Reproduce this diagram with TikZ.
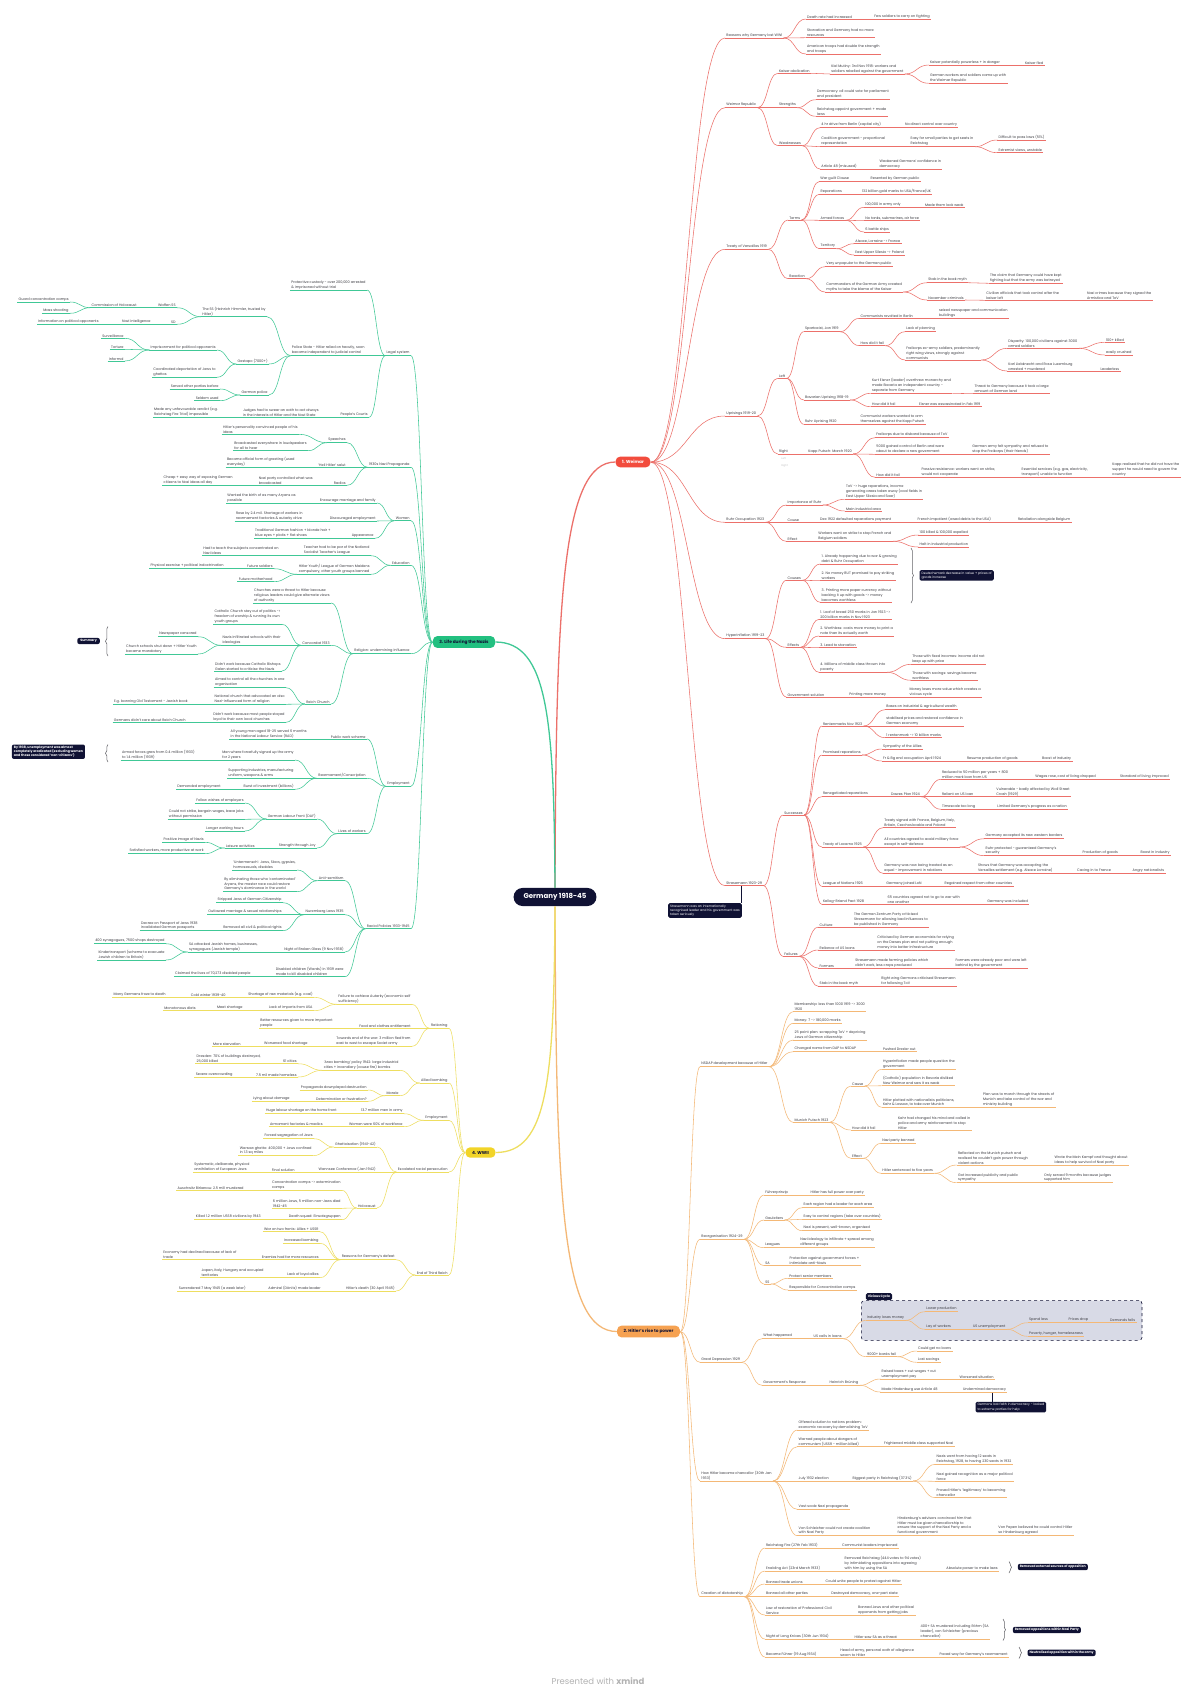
\documentclass[tikz,border=0pt]{standalone}
\usepackage{fontspec}
\setmainfont{Poppins}
\usetikzlibrary{positioning,calc,decorations.pathreplacing}

\definecolor{ink}{RGB}{60,60,66}
\definecolor{navy}{RGB}{16,18,52}
\definecolor{wmfill}{RGB}{242,76,61}
\definecolor{wmline}{RGB}{236,112,106}
\definecolor{hrfill}{RGB}{246,162,82}
\definecolor{hrline}{RGB}{244,184,118}
\definecolor{nzfill}{RGB}{34,192,128}
\definecolor{nzline}{RGB}{64,200,150}
\definecolor{wwfill}{RGB}{242,212,40}
\definecolor{wwline}{RGB}{238,222,96}
\definecolor{cyclefill}{RGB}{216,218,230}

\tikzset{
  topic/.style={font=\fontsize{3.5}{4.9}\selectfont, text=ink, align=left, inner xsep=1.2pt, inner ysep=0.7pt},
  wm/.style={topic}, wmln/.style={draw=wmline, line width=0.55pt},
  hr/.style={topic}, hrln/.style={draw=hrline, line width=0.55pt},
  nz/.style={topic}, nzln/.style={draw=nzline, line width=0.55pt},
  ww/.style={topic}, wwln/.style={draw=wwline, line width=0.55pt},
  pill/.style={rounded corners=4.5pt, inner xsep=6.5pt, inner ysep=3.6pt, font=\fontsize{4.3}{5}\selectfont\bfseries},
  note/.style={fill=navy, text=white, rounded corners=1.5pt, inner xsep=2pt, inner ysep=1.5pt, align=left, font=\fontsize{3.2}{4.2}\selectfont},
  brace/.style={decorate, decoration={brace, amplitude=2.5pt}, draw=ink!80, line width=0.5pt},
  stub/.style={inner sep=0pt, minimum size=0pt},
}

% right-hand topic: style, name, parent, position, text
\newcommand{\rtopic}[5]{%
  \node[#1, anchor=south west] (#2) at (#4) {#5};
  \draw[#1ln] (#2.south west) -- (#2.south east);
  \draw[#1ln] let \p1=(#3.south east), \p2=(#2.south west), \n1={(\x2-\x1)/2} in
    (\p1) .. controls +(\n1,0) and +(-\n1,0) .. (\p2);}
% left-hand topic: style, name, parent, position, text
\newcommand{\ltopic}[5]{%
  \node[#1, anchor=south east] (#2) at (#4) {#5};
  \draw[#1ln] (#2.south west) -- (#2.south east);
  \draw[#1ln] let \p1=(#3.south west), \p2=(#2.south east), \n1={(\x1-\x2)/2} in
    (\p1) .. controls +(-\n1,0) and +(\n1,0) .. (\p2);}

\begin{document}
\begin{tikzpicture}[x=1pt,y=-1pt]
        \fill[white] (0,0) rectangle (1200,1700);
        \useasboundingbox (0,0) rectangle (1200,1700);

        % Centre and main branches
        \node[pill, fill=navy, text=white, rounded corners=9pt, inner xsep=10pt, inner ysep=5.5pt, font=\fontsize{7}{8}\selectfont\bfseries] (central) at (555,897) {Germany 1918-45};
        \node[pill, fill=wmfill, text=white] (wpill) at (633,462) {1. Weimar};
        \node[pill, fill=hrfill, text=navy] (hpill) at (648.5,1331.5) {2. Hitler's rise to power};
        \node[pill, fill=nzfill, text=navy] (npill) at (464,642) {3. Life during the Nazis};
        \node[pill, fill=wwfill, text=navy] (xpill) at (480.5,1152.5) {4. WWII};
        \draw[wmln, line width=1.3pt] (central.north) .. controls (556,600) and (562,462) .. (wpill.west);
        \draw[hrln, line width=1.3pt] (central.south) .. controls (556,1200) and (562,1331.5) .. (hpill.west);
        \draw[nzln, line width=1.3pt] (central.north) .. controls (554,720) and (548,642) .. (npill.east);
        \draw[wwln, line width=1.3pt] (central.south) .. controls (554,1080) and (548,1152.5) .. (xpill.east);
        \node[stub] (wR) at (wpill.east) {};
        \node[stub] (hR) at (hpill.east) {};
        \node[stub] (nL) at (npill.west) {};
        \node[stub] (xL) at (xpill.west) {};

        % 1. Weimar
        \rtopic{wm}{w1}{wR}{725,38}{Reasons why Germany lost WWI}
        \rtopic{wm}{w1a}{w1}{805.7,19}{Death rate had increased}
        \rtopic{wm}{w1a1}{w1a}{873,19}{Few soldiers to carry on fighting}
        \rtopic{wm}{w1b}{w1}{805.7,37.7}{Starvation and Germany had no more\\resources}
        \rtopic{wm}{w1c}{w1}{805.7,54}{American troops had double the strength\\and troops}
        \rtopic{wm}{w2}{wR}{725,107.7}{Weimar Republic}
        \rtopic{wm}{w2a}{w2}{777.7,73.3}{Kaiser abdication}
        \rtopic{wm}{w2a1}{w2a}{830,74}{Kiel Mutiny: 3rd Nov 1918: workers and\\soldiers rebelled against the government}
        \rtopic{wm}{w2a1a}{w2a1}{928.7,65}{Kaiser potentially powerless + in danger}
        \rtopic{wm}{w2a1a1}{w2a1a}{1023.7,65}{Kaiser fled}
        \rtopic{wm}{w2a1b}{w2a1}{928.7,83.3}{German workers and soldiers came up with\\the Weimar Republic}
        \rtopic{wm}{w2b}{w2}{777.7,107.7}{Strengths}
        \rtopic{wm}{w2b1}{w2b}{815.7,99.7}{Democracy: all could vote for parliament\\and president}
        \rtopic{wm}{w2b2}{w2b}{815.7,116.3}{Reichstag appoint government + made\\laws}
        \rtopic{wm}{w2c}{w2}{777.7,145.7}{Weaknesses}
        \rtopic{wm}{w2c1}{w2c}{820,127.7}{4 hr drive from Berlin (capital city)}
        \rtopic{wm}{w2c1a}{w2c1}{903.7,127.7}{No direct control over country}
        \rtopic{wm}{w2c2}{w2c}{820,146.7}{Coalition government - proportional\\representation}
        \rtopic{wm}{w2c2a}{w2c2}{909.3,146.7}{Easy for small parties to get seats in\\Reichstag}
        \rtopic{wm}{w2c2a1}{w2c2a}{997.3,140}{Difficult to pass laws (51\%)}
        \rtopic{wm}{w2c2a2}{w2c2a}{997.3,152.7}{Extremist views, unstable}
        \rtopic{wm}{w2c3}{w2c}{820,169}{Article 48 (misused)}
        \rtopic{wm}{w2c3a}{w2c3}{878.3,169}{Weakened Germans' confidence in\\democracy}
        \rtopic{wm}{w3}{wR}{725,249.3}{Treaty of Versailles 1919}
        \rtopic{wm}{w3a}{w3}{788,220}{Terms}
        \rtopic{wm}{w3a1}{w3a}{819,181.7}{War guilt Clause}
        \rtopic{wm}{w3a1a}{w3a1}{869.3,181.7}{Resented by German public}
        \rtopic{wm}{w3a2}{w3a}{819.3,194.3}{Reparations}
        \rtopic{wm}{w3a2a}{w3a2}{860.7,194.3}{132 billion gold marks to USA/France/UK}
        \rtopic{wm}{w3a3}{w3a}{819.3,220.3}{Armed forces}
        \rtopic{wm}{w3a3a}{w3a3}{864,207.3}{100,000 in army only}
        \rtopic{wm}{w3a3a1}{w3a3a}{923.7,207.3}{Made them look weak}
        \rtopic{wm}{w3a3b}{w3a3}{864,220.7}{No tanks, submarines, air force}
        \rtopic{wm}{w3a3c}{w3a3}{864,232}{6 battle ships}
        \rtopic{wm}{w3a4}{w3a}{819.3,248.7}{Territory}
        \rtopic{wm}{w3a4a}{w3a4}{854,243.7}{Alsace, Lorraine -> France}
        \rtopic{wm}{w3a4b}{w3a4}{854,255}{East Upper Silesia -> Poland}
        \rtopic{wm}{w3b}{w3}{788,278.7}{Reaction}
        \rtopic{wm}{w3b1}{w3b}{825,266.7}{Very unpopular to the German public}
        \rtopic{wm}{w3b2}{w3b}{825,292}{Commanders of the German Army created\\myths to take the blame of the Kaiser}
        \rtopic{wm}{w3b2a}{w3b2}{927,282.7}{Stab in the back myth}
        \rtopic{wm}{w3b2a1}{w3b2a}{988.7,283.3}{The claim that Germany could have kept\\fighting but that the army was betrayed}
        \rtopic{wm}{w3b2b}{w3b2}{927,300}{November criminals}
        \rtopic{wm}{w3b2b1}{w3b2b}{985,300.3}{Civilian officials that took control after the\\kaiser left}
        \rtopic{wm}{w3b2b1a}{w3b2b1}{1085.7,300.3}{Nazi crimes because they signed the\\Armistice and ToV}
        \rtopic{wm}{w4}{wR}{725,416}{Uprisings 1919-20}
        \rtopic{wm}{w4a}{w4}{777.7,378.3}{Left}
        \rtopic{wm}{w4a1}{w4a}{803.7,331.7}{Spartacist, Jan 1919}
        \rtopic{wm}{w4a1a}{w4a1}{859.3,318.3}{Communists revolted in Berlin}
        \rtopic{wm}{w4a1a1}{w4a1a}{937.7,318.3}{seized newspaper and communication\\buildings}
        \rtopic{wm}{w4a1b}{w4a1}{859.3,345.7}{How did it fail}
        \rtopic{wm}{w4a1b1}{w4a1b}{905,331.7}{Lack of planning}
        \rtopic{wm}{w4a1b2}{w4a1b}{905,360}{Freikorps ex-army soldiers, predominantly\\right wing views, strongly against\\communists}
        \rtopic{wm}{w4a1b2a}{w4a1b2}{1007,348.3}{Disparity: 100,000 civilians against 3000\\armed soldiers}
        \rtopic{wm}{w4a1b2a1}{w4a1b2a}{1104.7,342.3}{100+ killed}
        \rtopic{wm}{w4a1b2a2}{w4a1b2a}{1104.7,355}{easily crushed}
        \rtopic{wm}{w4a1b2b}{w4a1b2}{1007,371}{Karl Liebknecht and Rosa Luxemburg\\arrested + murdered}
        \rtopic{wm}{w4a1b2b1}{w4a1b2b}{1099.3,371}{Leaderless}
        \rtopic{wm}{w4a2}{w4a}{803.7,400}{Bavarian Uprising 1918-19}
        \rtopic{wm}{w4a2a}{w4a2}{870.7,393.3}{Kurt Eisner (leader) overthrew monarchy and\\made Bavaria an independent country -\\separate from Germany}
        \rtopic{wm}{w4a2a1}{w4a2a}{973.3,393.7}{Threat to Germany because it took a large\\amount of German land}
        \rtopic{wm}{w4a2b}{w4a2}{870.7,406.7}{How did it fail}
        \rtopic{wm}{w4a2b1}{w4a2b}{917.7,406.7}{Eisner was assassinated in Feb 1919}
        \rtopic{wm}{w4a3}{w4a}{803.7,424.3}{Ruhr Uprising 1920}
        \rtopic{wm}{w4a3a}{w4a3}{859.3,424.3}{Communist workers wanted to arm\\themselves against the Kapp Putsch}
        \rtopic{wm}{w4b}{w4}{777.7,454}{Right}
        \node[topic, text=ink!30, font=\fontsize{2.6}{3}\selectfont, anchor=west] (faintL) at (780,458.3) {Left};
        \node[topic, text=ink!30, font=\fontsize{2.6}{3}\selectfont, anchor=west] (faintR) at (780,466) {Right};
        \rtopic{wm}{w4b1}{w4b}{807,454}{Kapp Putsch: March 1920}
        \rtopic{wm}{w4b1a}{w4b1}{875,437.7}{Freikorps due to disband because of ToV}
        \rtopic{wm}{w4b1b}{w4b1}{875,454.3}{5000 gained control of Berlin and were\\about to declare a new government}
        \rtopic{wm}{w4b1b1}{w4b1b}{971,454.3}{German army felt sympathy and refused to\\stop the Freikorps (their friends)}
        \rtopic{wm}{w4b1c}{w4b1}{875,477.3}{How did it fail}
        \rtopic{wm}{w4b1c1}{w4b1c}{920.3,477.3}{Passive resistance: workers went on strike,\\would not cooperate}
        \rtopic{wm}{w4b1c1a}{w4b1c1}{1020.3,477.3}{Essential services (e.g. gas, electricity,\\transport) unable to function}
        \rtopic{wm}{w4b1c1a1}{w4b1c1a}{1111,477.3}{Kapp realised that he did not have the\\support he would need to govern the\\country}
        \rtopic{wm}{w5}{wR}{725,522.3}{Ruhr Occupation 1923}
        \rtopic{wm}{w5a}{w5}{786.3,505}{Importance of Ruhr}
        \rtopic{wm}{w5a1}{w5a}{844.7,499.3}{ToV -> huge reparations, income\\generating areas taken away (coal fields in\\East Upper Silesia and Saar)}
        \rtopic{wm}{w5a2}{w5a}{844.7,511}{Main industrial area}
        \rtopic{wm}{w5b}{w5}{786.3,522.3}{Cause}
        \rtopic{wm}{w5b1}{w5b}{818.7,522.3}{Dec 1922 defaulted reparations payment}
        \rtopic{wm}{w5b1a}{w5b1}{916.3,522.3}{French impatient (owed debts to the USA)}
        \rtopic{wm}{w5b1a1}{w5b1a}{1016.7,522.3}{Retaliation alongside Belgium}
        \rtopic{wm}{w5c}{w5}{786.3,541.3}{Effect}
        \rtopic{wm}{w5c1}{w5c}{817,541.3}{Workers went on strike to stop French and\\Belgium soldiers}
        \rtopic{wm}{w5c1a}{w5c1}{918.3,535}{100 killed \& 100,000 expelled}
        \rtopic{wm}{w5c1b}{w5c1}{918.3,547}{Halt in industrial production}
        \rtopic{wm}{w6}{wR}{725,638.7}{Hyperinflation 1919-23}
        \rtopic{wm}{w6a}{w6}{786.3,580.3}{Causes}
        \rtopic{wm}{w6a1}{w6a}{820.3,564}{1. Already happening due to war \& growing\\debt \& Ruhr Occupation}
        \rtopic{wm}{w6a2}{w6a}{820.3,580.7}{2. No money BUT promised to pay striking\\workers}
        \rtopic{wm}{w6a3}{w6a}{820.3,602.3}{3. Printing more paper currency without\\backing it up with goods -> money\\becomes worthless}
        \node[note, anchor=north west] (hypnote) at (919.3,570) {Deutschemark decrease in value + prices of\\goods increase};
        \coordinate (hypA) at (911,548);
        \coordinate (hypB) at (911,603);
        \draw[brace] (hypA) -- (hypB);
        \rtopic{wm}{w6b}{w6}{786.3,647.3}{Effects}
        \rtopic{wm}{w6b1}{w6b}{819,619.3}{1. Loaf of bread 250 marks in Jan 1923 ->\\200 billion marks in Nov 1923}
        \rtopic{wm}{w6b2}{w6b}{819,636}{2. Worthless: costs more money to print a\\note than its actually worth}
        \rtopic{wm}{w6b3}{w6b}{819,647.7}{3. Lead to starvation}
        \rtopic{wm}{w6b4}{w6b}{819,672.3}{4. Millions of middle class thrown into\\poverty}
        \rtopic{wm}{w6b4a}{w6b4}{911,664.3}{Those with fixed incomes: income did not\\keep up with price}
        \rtopic{wm}{w6b4b}{w6b4}{911,680.3}{Those with savings: savings became\\worthless}
        \rtopic{wm}{w6c}{w6}{786.3,697}{Government solution}
        \rtopic{wm}{w6c1}{w6c}{848,697}{Printing more money}
        \rtopic{wm}{w6c1a}{w6c1}{908.3,697}{Money loses more value which creates a\\vicious cycle}
        \rtopic{wm}{w7}{wR}{725,885.7}{Stresemann 1923-29}
        \node[note, anchor=north west] (stnote) at (668,903) {Stresemann was an internationally\\recognised leader and his government was\\taken seriously};
        \coordinate (w7tip) at (741,886);
        \draw[navy, line width=1pt] (w7tip) -- (w7tip |- stnote.north);
        \rtopic{wm}{w7a}{w7}{783,815}{Successes}
        \rtopic{wm}{w7a1}{w7a}{821.7,726}{Rentenmarks Nov 1923}
        \rtopic{wm}{w7a1a}{w7a1}{885,709.7}{Bases on industrial \& agricultural wealth}
        \rtopic{wm}{w7a1b}{w7a1}{885,726}{stabilised prices and restored confidence in\\German economy}
        \rtopic{wm}{w7a1c}{w7a1}{885,737.7}{1 rentenmark -> 10 billion marks}
        \rtopic{wm}{w7a2}{w7a}{821.7,755}{Promised reparations}
        \rtopic{wm}{w7a2a}{w7a2}{881.7,749}{Sympathy of the Allies}
        \rtopic{wm}{w7a2b}{w7a2}{881.7,761}{Fr \& Bg end occupation April 1924}
        \rtopic{wm}{w7a2b1}{w7a2b}{965.7,761}{Resume production of goods}
        \rtopic{wm}{w7a2b1a}{w7a2b1}{1040.7,761}{Boost of industry}
        \rtopic{wm}{w7a3}{w7a}{821.7,796.7}{Renegotiated reparations}
        \rtopic{wm}{w7a3a}{w7a3}{889.7,796.7}{Dawes Plan 1924}
        \rtopic{wm}{w7a3a1}{w7a3a}{940.7,779.3}{Reduced to 50 million per years + 800\\million mark loan from US}
        \rtopic{wm}{w7a3a1a}{w7a3a1}{1034,779.3}{Wages rose, cost of living dropped}
        \rtopic{wm}{w7a3a1a1}{w7a3a1a}{1118.7,779.3}{Standard of living improved}
        \rtopic{wm}{w7a3a2}{w7a3a}{940.7,796.7}{Reliant on US loan}
        \rtopic{wm}{w7a3a2a}{w7a3a2}{995,796.7}{Vulnerable - badly affected by Wall Street\\Crash (1929)}
        \rtopic{wm}{w7a3a3}{w7a3a}{940.7,809.3}{Timescale too long}
        \rtopic{wm}{w7a3a3a}{w7a3a3}{996,809.3}{Limited Germany's progress as a nation}
        \rtopic{wm}{w7a4}{w7a}{821.7,847}{Treaty of Locarno 1925}
        \rtopic{wm}{w7a4a}{w7a4}{883,827.7}{Treaty signed with France, Belgium, Italy,\\Britain, Czechoslovakia and Poland}
        \rtopic{wm}{w7a4b}{w7a4}{883,847}{All countries agreed to avoid military force\\except in self-defence}
        \rtopic{wm}{w7a4b1}{w7a4b}{984.3,838.7}{Germany accepted its new western borders}
        \rtopic{wm}{w7a4b2}{w7a4b}{984.3,855.7}{Ruhr protected - guaranteed Germany's\\security}
        \rtopic{wm}{w7a4b2a}{w7a4b2}{1081.3,855.7}{Production of goods}
        \rtopic{wm}{w7a4b2a1}{w7a4b2a}{1139.3,855.7}{Boost in industry}
        \rtopic{wm}{w7a4c}{w7a4}{883,873.3}{Germany was now being treated as an\\equal - improvement in relations}
        \rtopic{wm}{w7a4c1}{w7a4c}{976.7,873.3}{Shows that Germany was accepting the\\Versailles settlement (e.g. Alsace Lorraine)}
        \rtopic{wm}{w7a4c1a}{w7a4c1}{1075.7,873.3}{Caving in to France}
        \rtopic{wm}{w7a4c1a1}{w7a4c1a}{1131.3,873.3}{Angry nationalists}
        \rtopic{wm}{w7a5}{w7a}{821.7,886.3}{League of Nations 1926}
        \rtopic{wm}{w7a5a}{w7a5}{885,886.3}{Germany joined LoN}
        \rtopic{wm}{w7a5a1}{w7a5a}{943.3,886.3}{Regained respect from other countries}
        \rtopic{wm}{w7a6}{w7a}{821.7,904.3}{Kellog-Briand Pact 1928}
        \rtopic{wm}{w7a6a}{w7a6}{886.3,904.3}{65 countries agreed not to go to war with\\one another}
        \rtopic{wm}{w7a6a1}{w7a6a}{986,904.3}{Germany was included}
        \rtopic{wm}{w7b}{w7}{783,956.3}{Failures}
        \rtopic{wm}{w7b1}{w7b}{818.3,927}{Culture}
        \rtopic{wm}{w7b1a}{w7b1}{852.7,927}{The German Zentrum Party criticised\\Stresemann for allowing bad influences to\\be published in Germany}
        \rtopic{wm}{w7b2}{w7b}{818.3,950}{Reliance of US loans}
        \rtopic{wm}{w7b2a}{w7b2}{876,950}{Criticised by German economists for relying\\on the Dawes plan and not putting enough\\money into better infrastructure}
        \rtopic{wm}{w7b3}{w7b}{818.3,968}{Farmers}
        \rtopic{wm}{w7b3a}{w7b3}{854,968}{Stresemann made farming policies which\\didn't work, less crops produced}
        \rtopic{wm}{w7b3a1}{w7b3a}{954.3,968}{Farmers were already poor and were left\\behind by the government}
        \rtopic{wm}{w7b4}{w7b}{818.3,986.3}{Stab in the back myth}
        \rtopic{wm}{w7b4a}{w7b4}{880,986.3}{Right wing Germans criticised Stresemann\\for following ToV}

        % 2. Hitler's rise to power
        \rtopic{hr}{h1}{hR}{700,1066.7}{NSDAP development because of Hitler}
        \rtopic{hr}{h1a}{h1}{793.3,1011.7}{Membership: less than 1000 1919 -> 3000\\1920}
        \rtopic{hr}{h1b}{h1}{793.3,1023.3}{Money: 7 -> 180,000 marks}
        \rtopic{hr}{h1c}{h1}{793.3,1040}{25 point plan: scrapping ToV + depriving\\Jews of German citizenship}
        \rtopic{hr}{h1d}{h1}{793.3,1051.7}{Changed name from DAP to NSDAP}
        \rtopic{hr}{h1d1}{h1d}{881.7,1051.7}{Pushed Drexler out}
        \rtopic{hr}{h1e}{h1}{793.3,1122.3}{Munich Putsch 1923}
        \rtopic{hr}{h1e1}{h1e}{850.7,1086}{Cause}
        \rtopic{hr}{h1e1a}{h1e1}{881.7,1069.3}{Hyperinflation made people question the\\government}
        \rtopic{hr}{h1e1b}{h1e1}{881.7,1085.7}{(Catholic) population in Bavaria disliked\\New Weimar and saw it as weak}
        \rtopic{hr}{h1e1c}{h1e1}{881.7,1107.3}{Hitler plotted with nationalists politicians,\\Kahr \& Lossow, to take over Munich}
        \rtopic{hr}{h1e1c1}{h1e1c}{981.7,1107.3}{Plan was to march through the streets of\\Munich and take control of the war and\\ministry building}
        \rtopic{hr}{h1e2}{h1e}{850.7,1130}{How did it fail}
        \rtopic{hr}{h1e2a}{h1e2}{896.7,1130}{Kahr had changed his mind and called in\\police and army reinforcement to stop\\Hitler}
        \rtopic{hr}{h1e3}{h1e}{850.7,1158.3}{Effect}
        \rtopic{hr}{h1e3a}{h1e3}{881,1143.3}{Nazi party banned}
        \rtopic{hr}{h1e3b}{h1e3}{881,1173.3}{Hitler sentenced to five years}
        \rtopic{hr}{h1e3b1}{h1e3b}{956.7,1165}{Reflected on the Munich putsch and\\realised he couldn't gain power through\\violent actions}
        \rtopic{hr}{h1e3b1a}{h1e3b1}{1053.3,1165}{Wrote the Mein Kampf and thought about\\ideas to help survival of Nazi party}
        \rtopic{hr}{h1e3b2}{h1e3b}{956.7,1182.7}{Got increased publicity and public\\sympathy}
        \rtopic{hr}{h1e3b2a}{h1e3b2}{1042.7,1182.7}{Only served 9 months because judges\\supported him}
        \rtopic{hr}{h2}{hR}{700,1239.3}{Reorganisation 1924-29}
        \rtopic{hr}{h2a}{h2}{764,1195}{Führerprinzip}
        \rtopic{hr}{h2a1}{h2a}{809.3,1195}{Hitler has full power over party}
        \rtopic{hr}{h2b}{h2}{764,1220}{Gauleiters}
        \rtopic{hr}{h2b1}{h2b}{802.3,1207.7}{Each region had a leader for each area}
        \rtopic{hr}{h2b2}{h2b}{802.3,1219.3}{Easy to control regions (take over countries)}
        \rtopic{hr}{h2b3}{h2b}{802.3,1230.7}{Nazi is present, well-known, organised}
        \rtopic{hr}{h2c}{h2}{764,1247.7}{Leagues}
        \rtopic{hr}{h2c1}{h2c}{799,1247.7}{Nazi ideology to infiltrate + spread among\\different groups}
        \rtopic{hr}{h2d}{h2}{764,1265.7}{SA}
        \rtopic{hr}{h2d1}{h2d}{788.3,1265.7}{Protection against government forces +\\intimidate anti-Nazis}
        \rtopic{hr}{h2e}{h2}{764,1284}{SS}
        \rtopic{hr}{h2e1}{h2e}{788,1278.3}{Protect senior members}
        \rtopic{hr}{h2e2}{h2e}{788,1290}{Responsible for Concentration camps}
        \node[draw=navy, dashed, fill=cyclefill, rounded corners=3pt, line width=0.6pt, minimum width=280.7pt, minimum height=39.7pt, anchor=north west] (cyclebox) at (861,1300.3) {};
        \node[note, font=\fontsize{3.2}{4}\selectfont\bfseries, anchor=south west, inner ysep=1.8pt] (cyclelabel) at (865.7,1300.3) {Vicious Cycle};
        \rtopic{hr}{h3}{hR}{700,1362.3}{Great Depression 1929}
        \rtopic{hr}{h3a}{h3}{762,1338.7}{What happened}
        \rtopic{hr}{h3a1}{h3a}{812.3,1338.7}{US calls in loans}
        \rtopic{hr}{h3a1a}{h3a1}{865.7,1320.3}{Industry loses money}
        \rtopic{hr}{h3a1a1}{h3a1a}{925,1311.7}{Lower production}
        \rtopic{hr}{h3a1a2}{h3a1a}{925,1329.3}{Lay of workers}
        \rtopic{hr}{h3a1a2a}{h3a1a2}{971.7,1329.3}{US unemployment}
        \rtopic{hr}{h3a1a2a1}{h3a1a2a}{1027.7,1322.7}{Spend less}
        \rtopic{hr}{h3a1a2a1a}{h3a1a2a1}{1067.3,1322.7}{Prices drop}
        \rtopic{hr}{h3a1a2a1a1}{h3a1a2a1a}{1108.7,1322.7}{Demands falls}
        \rtopic{hr}{h3a1a2a2}{h3a1a2a}{1027.7,1336.3}{Poverty, hunger, homelessness}
        \rtopic{hr}{h3a1b}{h3a1}{865.7,1356.7}{9000+ banks fail}
        \rtopic{hr}{h3a1b1}{h3a1b}{916.7,1351}{Could get no loans}
        \rtopic{hr}{h3a1b2}{h3a1b}{916.7,1362.3}{Lost savings}
        \rtopic{hr}{h3b}{h3}{762,1385.3}{Government's Response}
        \rtopic{hr}{h3b1}{h3b}{828.3,1385.3}{Heinrich Brüning}
        \rtopic{hr}{h3b1a}{h3b1}{880.3,1379}{Raised taxes + cut wages + cut\\unemployment pay}
        \rtopic{hr}{h3b1a1}{h3b1a}{958.3,1379}{Worsened situation}
        \rtopic{hr}{h3b1b}{h3b1}{880.3,1392}{Made Hindenburg use Article 48}
        \rtopic{hr}{h3b1b1}{h3b1b}{961.7,1392}{Undermined democracy}
        \node[note, anchor=north west] (depnote) at (975.3,1401.7) {Germans lost faith in democracy - looked\\to extreme parties for help};
        \coordinate (deptip) at (992.7,1392.5);
        \draw[navy, line width=1pt] (deptip) -- (deptip |- depnote.north);
        \rtopic{hr}{h4}{hR}{700,1481}{How Hitler became chancellor (30th Jan\\1933)}
        \rtopic{hr}{h4a}{h4}{797.3,1430}{Offered solution to nations problem:\\economic recovery by demolishing ToV}
        \rtopic{hr}{h4b}{h4}{797.3,1446.7}{Warned people about dangers of\\communism (USSR - million killed)}
        \rtopic{hr}{h4b1}{h4b}{882.7,1446.7}{Frightened middle class supported Nazi}
        \rtopic{hr}{h4c}{h4}{797.3,1481}{July 1932 election}
        \rtopic{hr}{h4c1}{h4c}{851.3,1481}{Biggest party in Reichstag (37.3\%)}
        \rtopic{hr}{h4c1a}{h4c1}{935.3,1464.3}{Nazis went from having 12 seats in\\Reichstag, 1928, to having 230 seats in 1932}
        \rtopic{hr}{h4c1b}{h4c1}{935.3,1481.3}{Nazi gained recognition as a major political\\force}
        \rtopic{hr}{h4c1c}{h4c1}{935.3,1497.7}{Proved Hitler's 'legitimacy' to becoming\\chancellor}
        \rtopic{hr}{h4d}{h4}{797.3,1509.3}{Vast scale Nazi propaganda}
        \rtopic{hr}{h4e}{h4}{797.3,1535.7}{Von Schleicher could not create coalition\\with Nazi Party}
        \rtopic{hr}{h4e1}{h4e}{896.3,1535.7}{Hindenburg's advisors convinced him that\\Hitler must be given chancellorship to\\ensure the support of the Nazi Party and a\\functional government}
        \rtopic{hr}{h4e1a}{h4e1}{997,1535.7}{Von Papen believed he could control Hitler\\so Hindenburg agreed}
        \rtopic{hr}{h5}{hR}{700,1596.7}{Creation of dictatorship}
        \rtopic{hr}{h5a}{h5}{764.7,1548}{Reichstag Fire (27th Feb 1933)}
        \rtopic{hr}{h5a1}{h5a}{840.7,1548}{Communist leaders imprisoned}
        \rtopic{hr}{h5b}{h5}{764.7,1571}{Enabling Act (23rd March 1933)}
        \rtopic{hr}{h5b1}{h5b}{843.3,1571}{Removed Reichstag (444 votes to 94 votes)\\by intimidating oppositions into agreeing\\with him by using the SA}
        \rtopic{hr}{h5b1a}{h5b1}{945,1571}{Absolute power to make laws}
        \rtopic{hr}{h5c}{h5}{764.7,1584}{Banned trade unions}
        \rtopic{hr}{h5c1}{h5c}{824.3,1584}{Could unite people to protest against Hitler}
        \rtopic{hr}{h5d}{h5}{764.7,1596.7}{Banned all other parties}
        \rtopic{hr}{h5d1}{h5d}{830,1596.7}{Destroyed democracy, one-part state}
        \rtopic{hr}{h5e}{h5}{764.7,1615}{Law of restoration of Professional Civil\\Service}
        \rtopic{hr}{h5e1}{h5e}{856.7,1615}{Banned Jews and other political\\opponents from getting jobs}
        \rtopic{hr}{h5f}{h5}{764.7,1639}{Night of Long Knives (30th Jun 1934)}
        \rtopic{hr}{h5f1}{h5f}{853.3,1639}{Hitler saw SA as a threat}
        \rtopic{hr}{h5f1a}{h5f1}{919.3,1639}{400+ SA murdered including Röhm (SA\\leader), von Schleicher (previous\\chancellor)}
        \rtopic{hr}{h5g}{h5}{764.7,1657}{Became Führer (19 Aug 1934)}
        \rtopic{hr}{h5g1}{h5g}{839,1657}{Head of army, personal oath of allegiance\\sworn to Hitler}
        \rtopic{hr}{h5g1a}{h5g1}{938.3,1657}{Paved way for Germany's rearmament}
        % summary boxes on the right
        \node[note, font=\fontsize{3.2}{4}\selectfont\bfseries, anchor=west, rounded corners=2pt] (extnote) at (1017.7,1567) {Removed external sources of opposition};
        \node[note, font=\fontsize{3.2}{4}\selectfont\bfseries, anchor=west, rounded corners=2pt] (partynote) at (1012.7,1630) {Removed oppositions within Nazi Party};
        \node[note, font=\fontsize{3.2}{4}\selectfont\bfseries, anchor=west, rounded corners=2pt] (armynote) at (1027.3,1652.8) {Neutralised opposition within the army};
        \draw[brace] (1009,1561.5) -- (1009,1573);
        \draw[brace] (1003,1619) -- (1003,1640.5);
        \draw[brace] (1019,1647) -- (1019,1658.5);

        % 3. Life during the Nazis
        \ltopic{nz}{n1}{nL}{411,355.7}{Legal system}
        \ltopic{nz}{n1a}{n1}{367,290}{Protective custody - over 200,000 arrested\\\& imprisoned without trial}
        \ltopic{nz}{n1b}{n1}{366,355.7}{Police State - Hitler relied on heavily, soon\\became independent to judicial control}
        \ltopic{nz}{n1b1}{n1b}{267,316.7}{The SS (Heinrich Himmler, trusted by\\Hitler)}
        \ltopic{nz}{n1b1a}{n1b1}{177,307.7}{Waffen SS}
        \ltopic{nz}{n1b1a1}{n1b1a}{138,307.7}{Commission of Holocaust}
        \ltopic{nz}{n1b1a1a}{n1b1a1}{70,302}{Guard concentration camps}
        \ltopic{nz}{n1b1a1b}{n1b1a1}{70,313.3}{Mass shooting}
        \ltopic{nz}{n1b1b}{n1b1}{177,324.3}{SD}
        \ltopic{nz}{n1b1b1}{n1b1b}{152,324.3}{Nazi intelligence}
        \ltopic{nz}{n1b1b1a}{n1b1b1}{100,324.3}{Information on political opponents}
        \ltopic{nz}{n1b2}{n1b}{269,364}{Gestapo (7000+)}
        \ltopic{nz}{n1b2a}{n1b2}{217,350}{Imprisonment for political opponents}
        \ltopic{nz}{n1b2a1}{n1b2a}{125,338.3}{Surveillance}
        \ltopic{nz}{n1b2a2}{n1b2a}{125,349.3}{Torture}
        \ltopic{nz}{n1b2a3}{n1b2a}{125,361}{Informal}
        \ltopic{nz}{n1b2b}{n1b2}{217,377.3}{Coordinated deportation of Jews to\\ghettos}
        \ltopic{nz}{n1b3}{n1b}{269,395}{German police}
        \ltopic{nz}{n1b3a}{n1b3}{220,389}{Served other parties before}
        \ltopic{nz}{n1b3b}{n1b3}{220,400.7}{Seldom used}
        \ltopic{nz}{n1c}{n1}{369,417.3}{People's Courts}
        \ltopic{nz}{n1c1}{n1c}{320,417.3}{Judges had to swear an oath to act always\\in the interests of Hitler and the Nazi State}
        \ltopic{nz}{n1c1a}{n1c1}{219,417.3}{Made any unfavourable verdict (e.g.\\Reichstag Fire Trial) impossible}
        \ltopic{nz}{n2}{nL}{411,467.3}{1930s Nazi Propaganda}
        \ltopic{nz}{n2a}{n2}{347,442.7}{Speeches}
        \ltopic{nz}{n2a1}{n2a}{299,434.3}{Hitler's personality convinced people of his\\ideas}
        \ltopic{nz}{n2a2}{n2a}{308,450.7}{Broadcasted everywhere in loudspeakers\\for all to hear}
        \ltopic{nz}{n2b}{n2}{347,467.3}{'Heil Hitler' salut}
        \ltopic{nz}{n2b1}{n2b}{296,467.3}{Became official form of greeting (used\\everyday)}
        \ltopic{nz}{n2c}{n2}{347,485.3}{Radios}
        \ltopic{nz}{n2c1}{n2c}{314,485.3}{Nazi party controlled what was\\broadcasted}
        \ltopic{nz}{n2c1a}{n2c1}{234,485.3}{Cheap + easy way of exposing German\\citizens to Nazi ideas all day}
        \ltopic{nz}{n3}{nL}{411,520.7}{Women}
        \ltopic{nz}{n3a}{n3}{377,503}{Encourage marriage and family}
        \ltopic{nz}{n3a1}{n3a}{297,503}{Wanted the birth of as many Aryans as\\possible}
        \ltopic{nz}{n3b}{n3}{377,521}{Discouraged employment}
        \ltopic{nz}{n3b1}{n3b}{304,521}{Rose by 2.4 mil. Shortage of workers in\\rearmament factories \& autarky drive}
        \ltopic{nz}{n3c}{n3}{375,538.3}{Appearance}
        \ltopic{nz}{n3c1}{n3c}{332,538.3}{Traditional German fashion + blonde hair +\\blue eyes + plaits + flat shoes}
        \ltopic{nz}{n4}{nL}{411,565.3}{Education}
        \ltopic{nz}{n4a}{n4}{371,555.7}{Teacher had to be par of the National\\Socialist Teacher's League}
        \ltopic{nz}{n4a1}{n4a}{280,555.7}{Had to teach the subjects concentrated on\\Nazi ideas}
        \ltopic{nz}{n4b}{n4}{371,574.3}{Hitler Youth/ League of German Maidens\\compulsory, other youth groups banned}
        \ltopic{nz}{n4b1}{n4b}{274,568.7}{Future soldiers}
        \ltopic{nz}{n4b1a}{n4b1}{225,568.7}{Physical exercise + political indoctrination}
        \ltopic{nz}{n4b2}{n4b}{274,581.7}{Future motherhood}
        \ltopic{nz}{n5}{nL}{411,653.7}{Religion: undermining influence}
        \ltopic{nz}{n5a}{n5}{331,603}{Churches were a threat to Hitler because\\religious leaders could give alternate views\\of authority}
        \ltopic{nz}{n5b}{n5}{331,645.3}{Concordat 1933}
        \ltopic{nz}{n5b1}{n5b}{282,624.3}{Catholic Church stay out of politics ->\\freedom of worship \& running its own\\youth groups}
        \ltopic{nz}{n5b2}{n5b}{282,645.3}{Nazis infiltrated schools with their\\ideologies}
        \ltopic{nz}{n5b2a}{n5b2}{198,636.7}{Newspaper censored}
        \ltopic{nz}{n5b2b}{n5b2}{198,654}{Church schools shut down + Hitler Youth\\became mandatory}
        \ltopic{nz}{n5b3}{n5b}{282,671}{Didn't work because Catholic Bishops\\Galen started to criticise the Nazis}
        \ltopic{nz}{n5c}{n5}{331,704}{Reich Church}
        \ltopic{nz}{n5c1}{n5c}{286,687.7}{Aimed to control all the churches in one\\organisation}
        \ltopic{nz}{n5c2}{n5c}{286,704.3}{National church that advocated an also\\Nazi-influenced form of religion}
        \ltopic{nz}{n5c2a}{n5c2}{189,704.3}{E.g. banning Old Testament - Jewish book}
        \ltopic{nz}{n5c3}{n5c}{286,722.3}{Didn't work because most people stayed\\loyal to their own local churches}
        \ltopic{nz}{n5c3a}{n5c3}{187,722.3}{Germans didn't care about Reich Church}
        \node[note, font=\fontsize{3.2}{4}\selectfont\bfseries, anchor=east, rounded corners=2pt, inner xsep=3pt] (sumnote) at (100,641) {Summary};
        \draw[brace] (108,656) -- (108,626.5);
        \ltopic{nz}{n6}{nL}{411,786.3}{Employment}
        \ltopic{nz}{n6a}{n6}{367,739}{Public work scheme}
        \ltopic{nz}{n6a1}{n6a}{308,739}{All young men aged 18-25 served 6 months\\in the National Labour Service (RAD)}
        \ltopic{nz}{n6b}{n6}{367,778.3}{Rearmament/Conscription}
        \ltopic{nz}{n6b1}{n6b}{295,760}{Men where forcefully signed up the army\\for 2 years}
        \ltopic{nz}{n6b1a}{n6b1}{196,760}{Armed forces grew from 0.4 million (1933)\\to 1.4 million (1939)}
        \node[note, font=\fontsize{3.2}{4.2}\selectfont\bfseries, anchor=north west, rounded corners=2pt] (empnote) at (11.7,744.3) {By 1938, unemployment was almost\\completely eradicated (excluding women\\and those considered 'non-citizens')};
        \draw[brace] (108,762) -- (108,744.5);
        \ltopic{nz}{n6b2}{n6b}{295,778.3}{Supporting industries, manufacturing\\uniform, weapons \& arms}
        \ltopic{nz}{n6b3}{n6b}{295,789.3}{Burst of investment (billions)}
        \ltopic{nz}{n6b3a}{n6b3}{222,789.3}{Demanded employment}
        \ltopic{nz}{n6c}{n6}{367,833.7}{Lives of workers}
        \ltopic{nz}{n6c1}{n6c}{317,819}{German Labour Front (DAF)}
        \ltopic{nz}{n6c1a}{n6c1}{245,803}{Follow wishes of employers}
        \ltopic{nz}{n6c1b}{n6c1}{245,819.3}{Could not strike, bargain wages, leave jobs\\without permission}
        \ltopic{nz}{n6c1c}{n6c1}{245,831}{Longer working hours}
        \ltopic{nz}{n6c2}{n6c}{317,848}{Strength through Joy}
        \ltopic{nz}{n6c2a}{n6c2}{256,848}{Leisure activities}
        \ltopic{nz}{n6c2a1}{n6c2a}{205,842.3}{Positive image of Nazis}
        \ltopic{nz}{n6c2a2}{n6c2a}{205,853.7}{Satisfied workers, more productive at work}
        \ltopic{nz}{n7}{nL}{411,928.7}{Racial Policies 1933-1945}
        \ltopic{nz}{n7a}{n7}{345,880.7}{Anti-semitism}
        \ltopic{nz}{n7a1}{n7a}{297,870}{'Untermensch': Jews, Slavs, gypsies,\\homosexuals, disables}
        \ltopic{nz}{n7a2}{n7a}{297,891.7}{By eliminating those who 'contaminated'\\Aryans, the master race could restore\\Germany's dominance in the world}
        \ltopic{nz}{n7b}{n7}{345,914.7}{Nuremberg Laws 1935}
        \ltopic{nz}{n7b1}{n7b}{283,902.7}{Stripped Jews of German Citizenship}
        \ltopic{nz}{n7b2}{n7b}{283,914.7}{Outlawed marriage \& sexual relationships}
        \ltopic{nz}{n7b3}{n7b}{283,930.7}{Removed all civil \& political rights}
        \ltopic{nz}{n7b3a}{n7b3}{199,930.7}{Decree on Passport of Jews 1938\\invalidated German passports}
        \ltopic{nz}{n7c}{n7}{345,952}{Night of Broken Glass (9 Nov 1938)}
        \ltopic{nz}{n7c1}{n7c}{259,952}{SA attacked Jewish homes, businesses,\\synagogues (Jewish temple)}
        \ltopic{nz}{n7c1a}{n7c1}{166,943.7}{400 synagogues, 7500 shops destroyed}
        \ltopic{nz}{n7c1b}{n7c1}{166,960}{Kindertransport (scheme to evacuate\\Jewish children to Britain)}
        \ltopic{nz}{n7d}{n7}{345,976.7}{Disabled children (Wards) in 1939 were\\made to kill disabled children}
        \ltopic{nz}{n7d1}{n7d}{252,976.7}{Claimed the lives of 70,273 disabled people}

        % 4. WWII
        \ltopic{ww}{x1}{xL}{449,1028.3}{Rationing}
        \ltopic{ww}{x1a}{x1}{412,1004.3}{Failure to achieve Autarky (economic self\\sufficiency)}
        \ltopic{ww}{x1a1}{x1a}{314,997.3}{Shortage of raw materials (e.g. coal)}
        \ltopic{ww}{x1a1a}{x1a1}{227,997.3}{Cold winter 1939-40}
        \ltopic{ww}{x1a1a1}{x1a1a}{167,997.3}{Many Germans froze to death}
        \ltopic{ww}{x1a2}{x1a}{314,1010.7}{Lack of imports from USA}
        \ltopic{ww}{x1a2a}{x1a2}{244,1010.7}{Meat shortage}
        \ltopic{ww}{x1a2a1}{x1a2a}{197,1010.7}{Monotonous diets}
        \ltopic{ww}{x1b}{x1}{412,1028.3}{Food and clothes entitlement}
        \ltopic{ww}{x1b1}{x1b}{334,1028.3}{Better resources given to more important\\people}
        \ltopic{ww}{x1c}{x1}{412,1046.3}{Towards end of the war: 3 million fled from\\east to west to escape Soviet army}
        \ltopic{ww}{x1c1}{x1c}{309,1046.3}{Worsened food shortage}
        \ltopic{ww}{x1c1a}{x1c1}{242,1046.3}{More starvation}
        \ltopic{ww}{x2}{xL}{449,1083}{Allied bombing}
        \ltopic{ww}{x2a}{x2}{400,1070.3}{'Area bombing' policy 1942: large industrial\\cities + incendiary (cause fire) bombs}
        \ltopic{ww}{x2a1}{x2a}{298,1063.7}{61 cities}
        \ltopic{ww}{x2a1a}{x2a1}{262,1063.7}{Dresden: 70\% of buildings destroyed,\\25,000 killed}
        \ltopic{ww}{x2a2}{x2a}{298,1077}{7.5 mil made homeless}
        \ltopic{ww}{x2a2a}{x2a2}{234,1077}{Severe overcrowding}
        \ltopic{ww}{x2b}{x2}{400,1095.7}{Morale}
        \ltopic{ww}{x2b1}{x2b}{368,1090}{Propaganda downplayed destruction}
        \ltopic{ww}{x2b2}{x2b}{368,1101.3}{Determination or frustration?}
        \ltopic{ww}{x2b2a}{x2b2}{291,1101.3}{Lying about damage}
        \ltopic{ww}{x3}{xL}{449,1120.3}{Employment}
        \ltopic{ww}{x3a}{x3}{404,1113.7}{13.7 million men in army}
        \ltopic{ww}{x3a1}{x3a}{338,1113.7}{Huge labour shortage on the home front}
        \ltopic{ww}{x3b}{x3}{404,1126.7}{Women were 60\% of workforce}
        \ltopic{ww}{x3b1}{x3b}{324,1126.7}{Armament factories \& medics}
        \ltopic{ww}{x4}{xL}{449,1172}{Escalated racial persecution}
        \ltopic{ww}{x4a}{x4}{377,1147}{Ghettoisation (1941-42)}
        \ltopic{ww}{x4a1}{x4a}{314,1138.7}{Forced segregation of Jews}
        \ltopic{ww}{x4a2}{x4a}{313,1155.7}{Warsaw ghetto: 400,000 + Jews confined\\in 1.3 sq miles}
        \ltopic{ww}{x4b}{x4}{377,1172}{Wannsee Conference (Jan 1942)}
        \ltopic{ww}{x4b1}{x4b}{296,1172}{Final solution}
        \ltopic{ww}{x4b1a}{x4b1}{251,1172}{Systematic, deliberate, physical\\annihilation of European Jews}
        \ltopic{ww}{x4c}{x4}{377,1208}{Holocaust}
        \ltopic{ww}{x4c1}{x4c}{342,1190.3}{Concentration camps -> extermination\\camps}
        \ltopic{ww}{x4c1a}{x4c1}{245,1190.3}{Auschwitz Birkenau: 2.5 mill murdered}
        \ltopic{ww}{x4c2}{x4c}{342,1208.3}{6 million Jews, 5 million non-Jews died\\1942-45}
        \ltopic{ww}{x4c3}{x4c}{342,1219.7}{Death squad: Einsatzgruppen}
        \ltopic{ww}{x4c3a}{x4c3}{262,1219.7}{Killed 1.2 million USSR civilians by 1943}
        \ltopic{ww}{x5}{xL}{449,1275}{End of Third Reich}
        \ltopic{ww}{x5a}{x5}{396,1259.7}{Reasons for Germany's defeat}
        \ltopic{ww}{x5a1}{x5a}{320,1231.7}{War on two fronts: Allies + USSR}
        \ltopic{ww}{x5a2}{x5a}{320,1243.3}{Increased bombing}
        \ltopic{ww}{x5a3}{x5a}{320,1259.7}{Enemies had far more resources}
        \ltopic{ww}{x5a3a}{x5a3}{238,1259.7}{Economy had declined because of lack of\\trade}
        \ltopic{ww}{x5a4}{x5a}{320,1277.7}{Lack of loyal allies}
        \ltopic{ww}{x5a4a}{x5a4}{265,1277.7}{Japan, Italy, Hungary and occupied\\territories}
        \ltopic{ww}{x5b}{x5}{396,1291}{Hitler's death (30 April 1945)}
        \ltopic{ww}{x5b1}{x5b}{322,1291}{Admiral (Dönitz) made leader}
        \ltopic{ww}{x5b1a}{x5b1}{247,1291}{Surrendered 7 May 1945 (a week later)}

        % footer
        \node[text=black!30, font=\fontsize{8.5}{9}\selectfont] (footer) at (598,1681) {Presented with \textbf{xmind}};
\end{tikzpicture}
\end{document}
